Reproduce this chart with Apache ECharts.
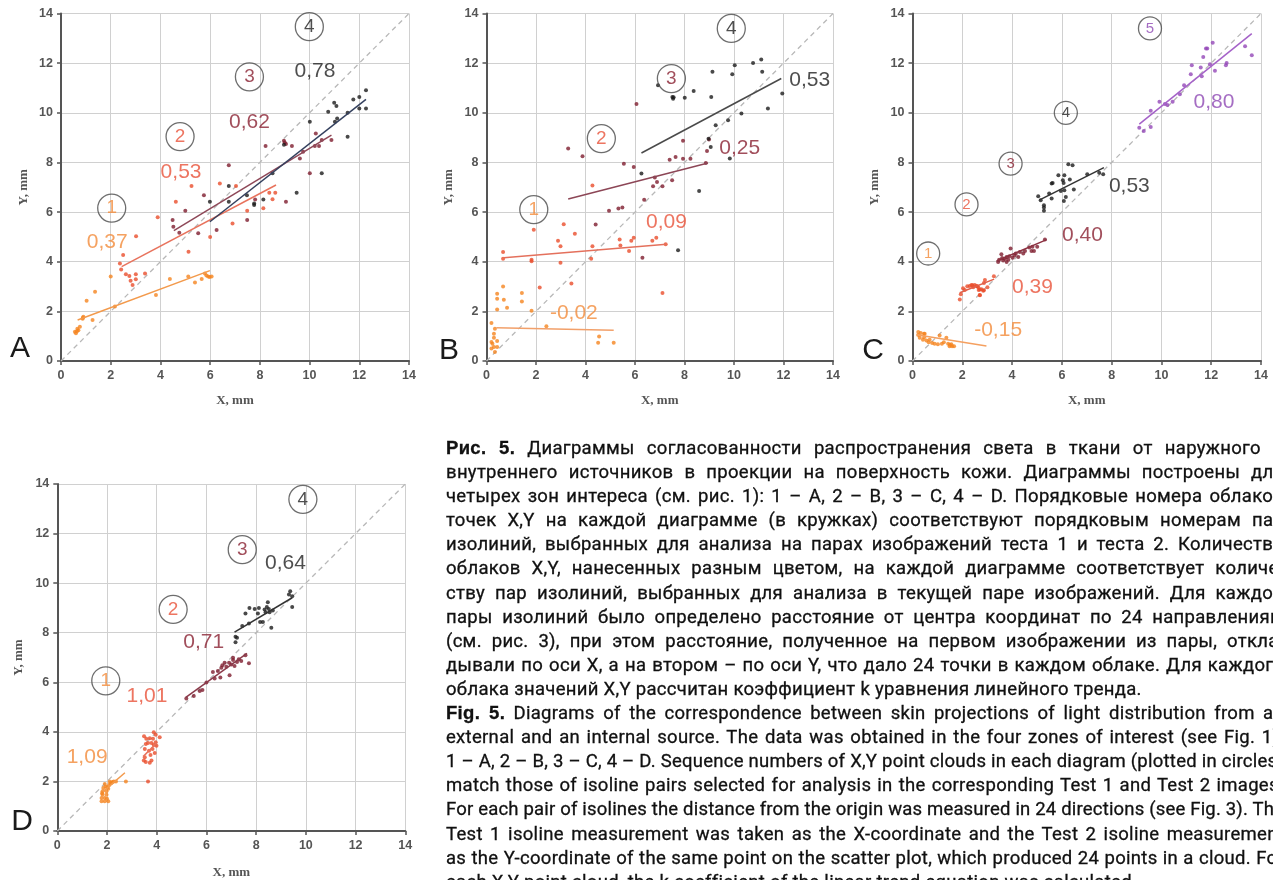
<!DOCTYPE html>
<html>
<head>
<meta charset="utf-8">
<title>Рис. 5</title>
<script src="https://cdn.jsdelivr.net/npm/echarts@6/dist/echarts.min.js"></script>
<style>
  html, body { margin:0; padding:0; background:#fff; overflow:hidden; }
  #main { position:absolute; left:0; top:0; width:1273px; height:880px; }
  #cap { position:absolute; left:446px; top:436px; width:838px;
         font-family: Roboto, "Liberation Sans", sans-serif; font-size:18.5px;
         line-height:24.1px; color:#111; -webkit-text-stroke:0.3px #111; }
  #cap .ln { display:block; white-space:nowrap; }
  #cap .ln span.t { display:inline-block; white-space:nowrap; letter-spacing:0.3px; }
  #cap b { font-family:"Liberation Sans", sans-serif; font-weight:900; color:#111; }
</style>
</head>
<body>
<div id="main"></div>
<div id="cap">
  <div class="ln"><span class="t"><b>Рис. 5.</b> Диаграммы согласованности распространения света в ткани от наружного и</span></div>
  <div class="ln"><span class="t">внутреннего источников в проекции на поверхность кожи. Диаграммы построены для</span></div>
  <div class="ln"><span class="t">четырех зон интереса (см. рис. 1): 1 – A, 2 – B, 3 – C, 4 – D. Порядковые номера облаков</span></div>
  <div class="ln"><span class="t">точек X,Y на каждой диаграмме (в кружках) соответствуют порядковым номерам пар</span></div>
  <div class="ln"><span class="t">изолиний, выбранных для анализа на парах изображений теста 1 и теста 2. Количество</span></div>
  <div class="ln"><span class="t">облаков X,Y, нанесенных разным цветом, на каждой диаграмме соответствует количе-</span></div>
  <div class="ln"><span class="t">ству пар изолиний, выбранных для анализа в текущей паре изображений. Для каждой</span></div>
  <div class="ln"><span class="t">пары изолиний было определено расстояние от центра координат по 24 направлениям</span></div>
  <div class="ln"><span class="t">(см. рис. 3), при этом расстояние, полученное на первом изображении из пары, откла-</span></div>
  <div class="ln"><span class="t">дывали по оси X, а на втором – по оси Y, что дало 24 точки в каждом облаке. Для каждого</span></div>
  <div class="ln last"><span class="t">облака значений X,Y рассчитан коэффициент k уравнения линейного тренда.</span></div>
  <div class="ln"><span class="t"><b>Fig. 5.</b> Diagrams of the correspondence between skin projections of light distribution from an</span></div>
  <div class="ln"><span class="t">external and an internal source. The data was obtained in the four zones of interest (see Fig. 1):</span></div>
  <div class="ln"><span class="t">1 – A, 2 – B, 3 – C, 4 – D. Sequence numbers of X,Y point clouds in each diagram (plotted in circles)</span></div>
  <div class="ln"><span class="t">match those of isoline pairs selected for analysis in the corresponding Test 1 and Test 2 images.</span></div>
  <div class="ln"><span class="t">For each pair of isolines the distance from the origin was measured in 24 directions (see Fig. 3). The</span></div>
  <div class="ln"><span class="t">Test 1 isoline measurement was taken as the X-coordinate and the Test 2 isoline measurement</span></div>
  <div class="ln"><span class="t">as the Y-coordinate of the same point on the scatter plot, which produced 24 points in a cloud. For</span></div>
  <div class="ln last"><span class="t">each X,Y point cloud, the k coefficient of the linear trend equation was calculated.</span></div>
</div>
<script type="text/javascript">
// tick labels shared by every axis
var ticks = [0, 2, 4, 6, 8, 10, 12, 14];

// ---- panel A ----
var a1 = [[0.56,1.18],[0.66,1.3],[0.76,1.38],[0.6,1.12],[0.7,1.24],[0.87,1.7],[0.9,1.78],[1.03,2.43],[1.27,1.65],[1.37,2.79],[2.0,3.4],[2.17,2.2],[3.82,2.66],[4.38,3.3],[5.12,3.4],[5.39,3.16],[5.66,3.3],[5.79,3.53],[5.92,3.4],[6.06,3.4],[5.98,3.38],[0.64,1.2],[0.88,1.74],[5.85,3.44]];
var a2 = [[2.5,4.27],[2.37,3.93],[2.42,3.69],[2.61,3.5],[2.75,3.42],[2.8,3.23],[2.88,3.06],[3.01,3.5],[3.01,3.29],[3.38,3.53],[3.02,5.03],[3.89,5.79],[4.62,6.42],[5.13,4.4],[5.25,7.05],[6.0,5.0],[6.39,7.15],[6.9,5.54],[7.04,7.05],[7.49,6.05],[8.14,6.15],[8.38,6.78],[8.51,6.52],[8.62,6.78]];
var a3 = [[4.49,5.68],[4.52,5.41],[4.76,5.17],[5.0,6.05],[5.52,5.15],[5.75,6.68],[6.26,5.28],[6.75,7.89],[7.49,5.68],[7.81,6.51],[8.23,8.66],[8.97,8.87],[9.05,8.74],[9.29,8.66],[9.05,6.42],[9.61,8.16],[9.74,8.43],[10.01,7.56],[10.25,9.17],[10.21,8.66],[10.38,8.66],[10.49,8.9],[10.88,8.9],[9.0,8.8]];
var a4 = [[5.99,6.42],[6.75,7.05],[6.75,6.42],[7.48,6.68],[7.77,6.35],[7.77,6.28],[8.14,6.51],[8.51,7.56],[8.97,8.71],[9.48,6.78],[10.01,9.64],[10.49,7.56],[10.75,10.04],[10.99,10.4],[11.08,10.27],[11.11,9.77],[11.02,9.64],[11.53,9.03],[11.53,10.0],[11.76,10.54],[12.0,10.64],[12.0,10.17],[12.27,10.91],[12.27,10.17]];
var aTrends = [[[0.67,1.65],[5.99,3.64]], [[2.44,3.8],[8.65,7.09]], [[4.54,5.25],[10.88,9.1]], [[5.99,5.61],[12.27,10.54]]];
var aK = ['0,37', '0,53', '0,62', '0,78'];

// ---- panel B ----
var b1 = [[0.2,1.53],[0.34,1.3],[0.3,1.1],[0.3,0.94],[0.2,0.77],[0.43,0.81],[0.3,0.56],[0.2,0.5],[0.34,0.36],[0.43,0.56],[0.24,0.7],[0.43,2.07],[0.43,2.51],[0.43,2.71],[0.67,3.0],[0.7,2.47],[0.83,2.15],[1.43,2.74],[1.43,2.4],[1.82,2.02],[2.42,1.4],[4.55,0.99],[4.51,0.74],[5.14,0.74]];
var b2 = [[0.67,4.39],[0.67,4.12],[1.82,4.08],[1.82,4.02],[1.91,5.29],[2.15,2.96],[2.89,4.84],[2.99,4.62],[2.99,3.96],[3.12,5.51],[3.43,3.12],[3.57,5.13],[4.23,4.12],[4.28,4.62],[4.28,7.07],[5.38,4.89],[5.41,4.65],[5.76,4.43],[5.85,4.84],[5.95,4.97],[6.7,4.84],[6.86,4.97],[7.24,4.7],[7.11,2.74]];
var b3 = [[3.3,8.56],[3.88,8.25],[4.41,5.5],[4.95,6.05],[5.33,6.14],[5.49,6.18],[5.55,7.95],[5.95,7.82],[6.06,10.35],[6.37,6.5],[6.73,7.04],[6.8,7.39],[6.89,7.21],[7.11,7.04],[7.4,8.11],[7.5,7.28],[7.64,8.22],[7.94,8.15],[8.24,8.15],[7.94,8.87],[8.86,7.98],[8.91,8.46],[8.99,8.92],[6.3,4.16]];
var b4 = [[6.26,7.55],[6.93,11.11],[7.51,10.64],[7.54,10.57],[8.01,10.61],[8.37,10.88],[8.59,6.85],[9.08,10.64],[9.13,11.65],[9.26,9.5],[9.76,9.7],[9.83,8.16],[9.93,11.55],[10.03,11.92],[10.3,9.97],[10.77,12.01],[11.1,12.15],[11.14,11.65],[11.37,10.17],[11.95,10.78],[7.74,4.46],[7.56,10.63],[8.97,8.95],[9.06,8.62]];
var bTrends = [[[0.4,1.34],[5.14,1.24]], [[0.7,4.16],[7.27,4.7]], [[3.3,6.53],[8.95,7.98]], [[6.26,8.38],[11.91,11.38]]];
var bK = ['-0,02', '0,09', '0,25', '0,53'];

// ---- panel C ----
var c1 = [[0.23,1.05],[0.33,1.13],[0.29,0.94],[0.47,0.96],[0.56,0.83],[0.69,0.86],[0.79,0.73],[0.89,0.7],[1.02,0.67],[1.09,1.03],[1.18,0.7],[1.36,0.94],[1.43,0.7],[1.49,0.59],[1.59,0.59],[1.67,0.59],[0.49,1.1],[0.42,0.86],[0.65,0.76],[1.26,0.76],[1.56,0.67],[0.23,1.17],[0.46,1.1],[1.5,0.65]];
var c2 = [[1.9,2.48],[1.94,2.69],[2.03,2.93],[2.1,2.86],[2.2,3.01],[2.3,3.02],[2.37,3.06],[2.41,3.05],[2.44,2.97],[2.5,3.06],[2.57,3.02],[2.6,3.01],[2.64,2.97],[2.66,2.86],[2.7,2.66],[2.71,2.88],[2.71,2.65],[2.77,2.89],[2.84,2.83],[2.87,2.85],[2.87,3.14],[2.91,3.26],[3.01,2.97],[3.27,3.41]];
var c3 = [[3.44,3.99],[3.48,4.08],[3.57,4.3],[3.64,4.05],[3.71,4.12],[3.78,4.19],[3.78,3.99],[3.85,4.08],[3.89,4.22],[3.94,4.53],[4.02,4.16],[4.15,4.33],[4.25,4.19],[4.31,4.39],[4.45,4.33],[4.52,4.43],[4.69,4.57],[4.78,4.43],[4.82,4.6],[4.88,4.43],[5.01,4.6],[5.32,4.89],[3.6,4.15],[4.1,4.25]];
var c4 = [[5.05,6.64],[5.15,6.48],[5.28,6.18],[5.28,6.05],[5.28,6.27],[5.49,6.75],[5.59,7.15],[5.63,7.17],[5.59,6.55],[5.86,7.48],[5.96,6.85],[6.04,7.28],[6.07,7.17],[6.1,7.48],[6.1,6.88],[6.08,6.45],[6.16,6.61],[6.26,7.93],[6.32,7.31],[6.43,7.89],[6.48,6.91],[7.02,7.52],[7.5,7.58],[7.66,7.52]];
var c5 = [[9.11,9.4],[9.29,9.27],[9.57,10.08],[9.57,9.43],[9.92,10.44],[10.14,10.35],[10.24,10.31],[10.45,10.44],[10.74,10.75],[10.91,11.11],[11.18,11.55],[11.22,11.92],[11.58,11.82],[11.62,11.47],[11.68,12.25],[11.79,12.59],[11.84,12.59],[11.95,11.96],[12.06,12.82],[12.15,11.69],[12.59,11.92],[12.62,12.01],[13.36,12.68],[13.63,12.32]];
var cTrends = [[[0.16,1.06],[2.97,0.6]], [[1.9,2.75],[3.28,3.3]], [[3.38,4.03],[5.39,4.89]], [[5.09,6.48],[7.69,7.79]], [[9.11,9.54],[13.63,13.19]]];
var cK = ['-0,15', '0,39', '0,40', '0,53', '0,80'];

// ---- panel D ----
var d1 = [[1.78,1.2],[1.91,1.2],[2.05,1.2],[1.78,1.33],[1.91,1.33],[1.82,1.46],[1.98,1.46],[1.82,1.6],[1.98,1.6],[1.85,1.73],[2.01,1.77],[2.09,1.86],[2.18,1.94],[2.27,2.0],[2.36,2.0],[2.11,2.0],[2.76,2.0],[1.91,1.9],[2.05,1.7],[1.8,1.52],[2.22,1.98],[1.95,1.8],[2.0,1.3],[2.14,1.92]];
var d2 = [[3.49,3.82],[3.58,3.72],[3.72,3.74],[3.88,3.98],[3.96,3.88],[4.12,3.78],[3.56,3.51],[3.65,3.55],[3.79,3.55],[3.88,3.47],[3.96,3.58],[3.52,3.31],[3.69,3.24],[3.83,3.31],[3.92,3.15],[3.75,3.07],[3.52,2.98],[3.56,2.78],[3.72,2.75],[3.79,2.84],[3.65,2.0],[3.99,3.44],[3.48,2.84],[3.85,3.72]];
var d3 = [[5.19,5.35],[5.49,5.45],[5.73,5.65],[5.84,5.69],[6.0,5.99],[6.26,6.42],[6.33,6.15],[6.46,6.46],[6.56,6.19],[6.6,6.59],[6.64,6.69],[6.73,6.79],[6.8,6.63],[6.91,6.79],[6.93,6.28],[7.0,6.72],[7.07,6.9],[7.07,6.99],[7.13,6.66],[7.23,6.82],[7.3,6.93],[7.4,6.86],[7.57,7.09],[7.71,6.77]];
var d4 = [[7.17,7.84],[7.17,7.62],[7.23,7.8],[7.44,8.27],[7.57,8.78],[7.71,8.37],[7.73,9.0],[7.94,8.96],[8.07,8.78],[8.11,9.0],[8.16,8.43],[8.27,8.43],[8.34,8.94],[8.38,8.83],[8.43,9.04],[8.47,9.23],[8.51,8.96],[8.54,8.83],[8.61,8.2],[8.67,8.9],[9.32,9.54],[9.37,9.67],[9.45,9.47],[9.45,9.04]];
var dTrends = [[[1.85,1.6],[2.72,2.35]], [[3.45,3.0],[4.0,3.55]], [[5.17,5.39],[7.63,7.17]], [[7.13,8.02],[9.45,9.41]]];
var dK = ['1,09', '1,01', '0,71', '0,64'];

// colours by cloud number
var dotColors   = ['#f5841f', '#ea4d2c', '#7e1d2e', '#1c1c1c', '#9447b8'];
var labelColors = ['#f38b3a', '#e8533a', '#8a2232', '#222222', '#8e48b4'];

// layout of the four panels (pixels) and where the circled numbers / k values sit (axis units)
var panels = [
  { grid:{left:61, top:13.5, width:348, height:347.5}, letter:'A', letterXY:[20,349],
    clouds:[a1,a2,a3,a4], trends:aTrends, k:aK,
    lineColors:['#f39a4c','#e8735d','#8e4858','#34405e'],
    circleAt:[[2.04,6.16],[4.79,9.04],[7.58,11.45],[9.99,13.47]],
    kAt:[[1.86,4.77],[4.83,7.6],[7.58,9.62],[10.22,11.68]],
    circleSize:28, circleFont:19, kFont:21, nameGapX:33, nameGapY:31 },
  { grid:{left:486.5, top:13.5, width:346.5, height:347.5}, letter:'B', letterXY:[449,351],
    clouds:[b1,b2,b3,b4], trends:bTrends, k:bK,
    lineColors:['#f2a06a','#e4705c','#8c4656','#4a4a4a'],
    circleAt:[[1.91,6.1],[4.64,8.96],[7.47,11.38],[9.89,13.4]],
    kAt:[[3.53,1.91],[7.27,5.6],[10.23,8.56],[13.06,11.31]],
    circleSize:28, circleFont:19, kFont:21, nameGapX:33, nameGapY:31 },
  { grid:{left:912.5, top:13.5, width:348.5, height:347.5}, letter:'C', letterXY:[873,351],
    clouds:[c1,c2,c3,c4,c5], trends:cTrends, k:cK,
    lineColors:['#f5a060','#e0604a','#8b3040','#333333','#a562c8'],
    circleAt:[[0.63,4.33],[2.17,6.31],[3.94,7.95],[6.16,10.0],[9.54,13.4]],
    kAt:[[3.44,1.26],[4.82,2.96],[6.83,5.07],[8.71,7.04],[12.11,10.44]],
    circleSize:23, circleFont:15, kFont:21, nameGapX:33, nameGapY:31 },
  { grid:{left:57.3, top:484, width:348, height:348.3}, letter:'D', letterXY:[22,822],
    clouds:[d1,d2,d3,d4], trends:dTrends, k:dK,
    lineColors:['#f39a4c','#e8735d','#8a3a4a','#333333'],
    circleAt:[[1.95,6.06],[4.66,8.94],[7.44,11.35],[9.88,13.38]],
    kAt:[[1.2,2.97],[3.61,5.45],[5.89,7.62],[9.18,10.79]],
    circleSize:28, circleFont:19, kFont:21, nameGapX:35, nameGapY:32 }
];

var grids = [], xAxes = [], yAxes = [], series = [], graphics = [];
var axisColor = '#555';
panels.forEach(function (p, i) {
  grids.push(p.grid);
  var common = {
    gridIndex: i, type: 'value',
    min: ticks[0], max: ticks[ticks.length - 1], interval: ticks[1] - ticks[0],
    nameLocation: 'middle',
    nameTextStyle: { fontFamily: 'Liberation Serif', fontSize: 13, fontWeight: 'bold', color: '#555' },
    axisLine: { show: true, onZero: false, lineStyle: { color: axisColor, width: 2 } },
    axisTick: { show: true, length: 4, lineStyle: { color: axisColor, width: 1.5 } },
    axisLabel: { color: '#555', fontSize: 12.5, fontWeight: 'bold', fontFamily: 'Liberation Sans', margin: 8 },
    splitLine: { show: true, lineStyle: { color: '#d0d0d0', width: 1 } }
  };
  xAxes.push(Object.assign({}, common, { name: 'X, mm', nameGap: p.nameGapX }));
  yAxes.push(Object.assign({}, common, { name: 'Y, mm', nameGap: p.nameGapY }));

  // y = x reference
  series.push({ type: 'line', xAxisIndex: i, yAxisIndex: i, data: [[0,0],[14,14]],
    symbol: 'none', silent: true, z: 1,
    lineStyle: { color: '#b8b8b8', width: 1.3, type: [5, 4] } });

  p.clouds.forEach(function (cloud, j) {
    series.push({ type: 'scatter', xAxisIndex: i, yAxisIndex: i, data: cloud,
      symbol: 'circle', symbolSize: 4, z: 3, itemStyle: { color: dotColors[j] } });
    series.push({ type: 'line', xAxisIndex: i, yAxisIndex: i, data: p.trends[j],
      symbol: 'none', z: 4, lineStyle: { color: p.lineColors[j], width: 1.5 } });
  });

  // circled cloud numbers
  series.push({ type: 'scatter', xAxisIndex: i, yAxisIndex: i, z: 5, silent: true,
    symbol: 'circle', symbolSize: p.circleSize,
    itemStyle: { color: 'rgba(255,255,255,0)', borderColor: '#4a4a4a', borderWidth: 1.3 },
    data: p.circleAt.map(function (pos, j) {
      return { value: pos, label: { show: true, position: 'inside', formatter: String(j + 1),
        color: labelColors[j], fontSize: p.circleFont, fontFamily: 'Liberation Sans' } };
    }) });

  // k coefficients
  series.push({ type: 'scatter', xAxisIndex: i, yAxisIndex: i, z: 6, silent: true,
    symbolSize: 1, itemStyle: { color: 'rgba(0,0,0,0)' },
    data: p.kAt.map(function (pos, j) {
      return { value: pos, label: { show: true, position: 'inside', formatter: p.k[j],
        color: labelColors[j], fontSize: p.kFont, fontFamily: 'Liberation Sans' } };
    }) });

  graphics.push({ type: 'text', x: p.letterXY[0], y: p.letterXY[1], z: 10,
    style: { text: p.letter, fontSize: 30, fontFamily: 'Liberation Sans', fill: '#1a1a1a',
      align: 'center', verticalAlign: 'middle' } });
});

var chart = echarts.init(document.getElementById('main'));
chart.setOption({
  animation: false,
  backgroundColor: '#fff',
  grid: grids,
  xAxis: xAxes,
  yAxis: yAxes,
  series: series,
  graphic: graphics
});

// justify each caption line to the column width (last lines of a paragraph stay natural)
var target = 838;
document.querySelectorAll('#cap .ln').forEach(function (ln) {
  if (ln.classList.contains('last')) return;
  var t = ln.querySelector('.t');
  var w = t.getBoundingClientRect().width;
  var txt = t.textContent;
  var spaces = (txt.match(/ /g) || []).length;
  if (w <= target && spaces > 0) {
    t.style.wordSpacing = ((target - w) / spaces) + 'px';
  } else if (w > target) {
    t.style.letterSpacing = (0.3 + (target - w) / txt.length) + 'px';
  }
});
</script>
</body>
</html>
